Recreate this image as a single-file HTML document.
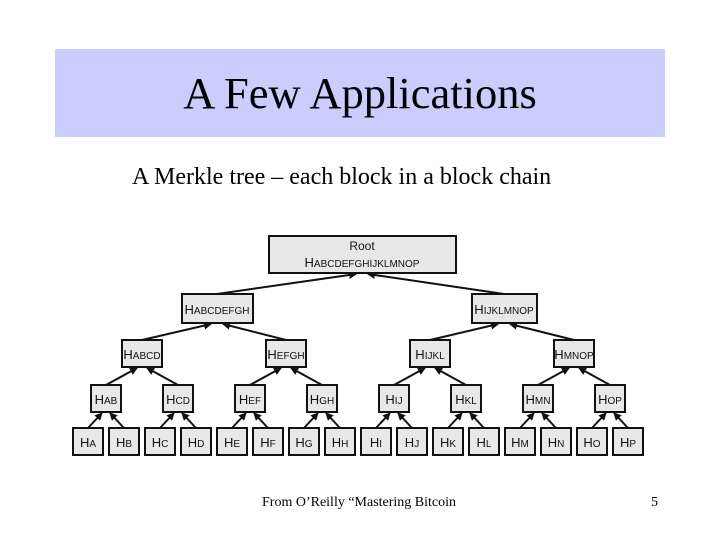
<!DOCTYPE html>
<html><head><style>
body{margin:0;width:720px;height:540px;background:#fff;position:relative;overflow:hidden;font-family:"Liberation Serif",serif}
#band{position:absolute;left:55px;top:49px;width:610px;height:88px;background:#ccccff}
#title{position:absolute;left:55px;width:610px;top:67px;text-align:center;font-size:44.5px;color:#000}
#sub{position:absolute;left:132px;top:164px;font-size:24px}
#foot{position:absolute;left:262px;top:495px;font-size:14px}
#num{position:absolute;left:651px;top:495px;font-size:14px}
svg{position:absolute;left:0;top:0}
svg text{font-family:"Liberation Sans",sans-serif;font-size:13px;fill:#111;text-anchor:middle}
svg tspan.s{font-size:10px}
</style></head><body>
<div id="band"></div>
<div id="title">A Few Applications</div>
<div id="sub">A Merkle tree – each block in a block chain</div>
<div id="foot">From O’Reilly “Mastering Bitcoin</div>
<div id="num">5</div>
<svg width="720" height="540">
<defs><marker id="a" markerWidth="4" markerHeight="4" refX="3.5" refY="2" orient="auto"><path d="M0,0L4,2L0,4z" fill="#111"/></marker></defs>
<g stroke="#111" stroke-width="2" marker-end="url(#a)">
<line x1="88" y1="428" x2="102" y2="413"/><line x1="124" y1="428" x2="110" y2="413"/>
<line x1="160" y1="428" x2="174" y2="413"/><line x1="196" y1="428" x2="182" y2="413"/>
<line x1="232" y1="428" x2="246" y2="413"/><line x1="268" y1="428" x2="254" y2="413"/>
<line x1="304" y1="428" x2="318" y2="413"/><line x1="340" y1="428" x2="326" y2="413"/>
<line x1="376" y1="428" x2="390" y2="413"/><line x1="412" y1="428" x2="398" y2="413"/>
<line x1="448" y1="428" x2="462" y2="413"/><line x1="484" y1="428" x2="470" y2="413"/>
<line x1="520" y1="428" x2="534" y2="413"/><line x1="556" y1="428" x2="542" y2="413"/>
<line x1="592" y1="428" x2="606" y2="413"/><line x1="628" y1="428" x2="614" y2="413"/>
<line x1="106" y1="385" x2="137" y2="368"/><line x1="178" y1="385" x2="147" y2="368"/>
<line x1="250" y1="385" x2="281" y2="368"/><line x1="322" y1="385" x2="291" y2="368"/>
<line x1="394" y1="385" x2="425" y2="368"/><line x1="466" y1="385" x2="435" y2="368"/>
<line x1="538" y1="385" x2="569" y2="368"/><line x1="610" y1="385" x2="579" y2="368"/>
<line x1="142" y1="340" x2="211" y2="324"/><line x1="286" y1="340" x2="223" y2="324"/>
<line x1="430" y1="340" x2="498" y2="324"/><line x1="574" y1="340" x2="510" y2="324"/>
<line x1="217" y1="294" x2="356" y2="274"/><line x1="504" y1="294" x2="368" y2="274"/>
</g>
<g fill="#e8e8e8" stroke="#111" stroke-width="2">
<rect x="269" y="236" width="187" height="37"/>
<rect x="182" y="294" width="71" height="29"/><rect x="472" y="294" width="65" height="29"/>
<rect x="122" y="340" width="40" height="27"/><rect x="266" y="340" width="40" height="27"/>
<rect x="410" y="340" width="40" height="27"/><rect x="554" y="340" width="40" height="27"/>
<rect x="91" y="385" width="30" height="27"/><rect x="163" y="385" width="30" height="27"/>
<rect x="235" y="385" width="30" height="27"/><rect x="307" y="385" width="30" height="27"/>
<rect x="379" y="385" width="30" height="27"/><rect x="451" y="385" width="30" height="27"/>
<rect x="523" y="385" width="30" height="27"/><rect x="595" y="385" width="30" height="27"/>
<rect x="73" y="428" width="30" height="27"/><rect x="109" y="428" width="30" height="27"/>
<rect x="145" y="428" width="30" height="27"/><rect x="181" y="428" width="30" height="27"/>
<rect x="217" y="428" width="30" height="27"/><rect x="253" y="428" width="30" height="27"/>
<rect x="289" y="428" width="30" height="27"/><rect x="325" y="428" width="30" height="27"/>
<rect x="361" y="428" width="30" height="27"/><rect x="397" y="428" width="30" height="27"/>
<rect x="433" y="428" width="30" height="27"/><rect x="469" y="428" width="30" height="27"/>
<rect x="505" y="428" width="30" height="27"/><rect x="541" y="428" width="30" height="27"/>
<rect x="577" y="428" width="30" height="27"/><rect x="613" y="428" width="30" height="27"/>
</g>
<text x="362" y="250" style="font-size:12px">Root</text>
<text x="362" y="267">H<tspan class="s">ABCDEFGHIJKLMNOP</tspan></text>
<text x="217" y="314">H<tspan class="s">ABCDEFGH</tspan></text>
<text x="504" y="314">H<tspan class="s">IJKLMNOP</tspan></text>
<text x="142" y="359">H<tspan class="s">ABCD</tspan></text>
<text x="286" y="359">H<tspan class="s">EFGH</tspan></text>
<text x="430" y="359">H<tspan class="s">IJKL</tspan></text>
<text x="574" y="359">H<tspan class="s">MNOP</tspan></text>
<text x="106" y="404">H<tspan class="s">AB</tspan></text>
<text x="178" y="404">H<tspan class="s">CD</tspan></text>
<text x="250" y="404">H<tspan class="s">EF</tspan></text>
<text x="322" y="404">H<tspan class="s">GH</tspan></text>
<text x="394" y="404">H<tspan class="s">IJ</tspan></text>
<text x="466" y="404">H<tspan class="s">KL</tspan></text>
<text x="538" y="404">H<tspan class="s">MN</tspan></text>
<text x="610" y="404">H<tspan class="s">OP</tspan></text>
<text x="88" y="447">H<tspan class="s">A</tspan></text>
<text x="124" y="447">H<tspan class="s">B</tspan></text>
<text x="160" y="447">H<tspan class="s">C</tspan></text>
<text x="196" y="447">H<tspan class="s">D</tspan></text>
<text x="232" y="447">H<tspan class="s">E</tspan></text>
<text x="268" y="447">H<tspan class="s">F</tspan></text>
<text x="304" y="447">H<tspan class="s">G</tspan></text>
<text x="340" y="447">H<tspan class="s">H</tspan></text>
<text x="376" y="447">H<tspan class="s">I</tspan></text>
<text x="412" y="447">H<tspan class="s">J</tspan></text>
<text x="448" y="447">H<tspan class="s">K</tspan></text>
<text x="484" y="447">H<tspan class="s">L</tspan></text>
<text x="520" y="447">H<tspan class="s">M</tspan></text>
<text x="556" y="447">H<tspan class="s">N</tspan></text>
<text x="592" y="447">H<tspan class="s">O</tspan></text>
<text x="628" y="447">H<tspan class="s">P</tspan></text>
</svg>
</body></html>
